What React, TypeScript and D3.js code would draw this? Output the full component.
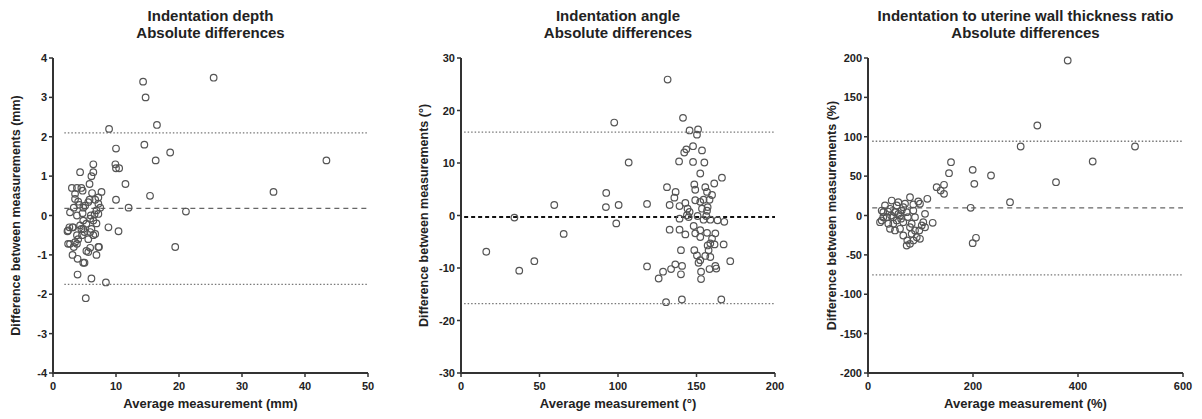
// Bland-Altman plots - three panels side by side
import * as d3 from 'd3';

// [average, difference] pairs
const depthPoints: [number, number][] = [
  [14.3, 3.4], [14.7, 3.0], [16.5, 2.3], [25.5, 3.5], [8.9, 2.2], [10.0, 1.7], [14.5, 1.8], [18.6, 1.6],
  [16.3, 1.4], [43.4, 1.4], [9.9, 1.3], [10.0, 1.2], [10.5, 1.2], [11.5, 0.8], [35.0, 0.6], [15.4, 0.5],
  [10.0, 0.4], [12.0, 0.2], [21.1, 0.1], [8.8, -0.3], [10.4, -0.4], [19.4, -0.8],
  [2.3, -0.4], [2.6, -0.3], [3.0, 0.7], [4.3, 1.1], [6.4, 1.3], [6.1, 1.0], [6.4, 1.1], [5.8, 0.8],
  [7.7, 0.6], [4.5, 0.7], [3.8, 0.7], [3.5, 0.55], [4.0, 0.35], [4.2, 0.27], [3.3, 0.2], [4.8, 0.2],
  [5.8, 0.4], [6.7, 0.4], [7.2, 0.3], [6.9, 0.13], [7.5, 0.2], [3.8, 0.0], [4.7, 0.06], [5.9, -0.08],
  [6.6, 0.03], [3.1, -0.3], [4.3, -0.25], [4.8, -0.34], [5.0, -0.42], [4.6, -0.5], [6.9, -0.2], [6.1, -0.34],
  [5.9, -0.42], [6.4, -0.5], [5.6, -0.6], [4.0, -0.6], [2.7, -0.72], [3.8, -0.72], [3.3, -0.8], [5.9, -0.82],
  [7.3, -0.8], [5.3, -0.9], [3.1, -1.0], [6.9, -1.0], [3.9, -1.1], [4.8, -1.2], [3.9, -1.5], [6.1, -1.6],
  [8.4, -1.7], [5.2, -2.1], [4.7, 0.63], [6.2, 0.57], [7.2, 0.46], [3.5, 0.42], [5.1, 0.25], [5.6, 0.34],
  [2.7, 0.08], [6.0, 0.0], [4.8, -0.13], [7.2, 0.04], [6.4, -0.13], [5.3, -0.21], [2.4, -0.38], [3.2, -0.3],
  [4.5, -0.34], [6.7, -0.47], [3.8, -0.5], [2.4, -0.72], [3.5, -0.68], [5.6, -0.93], [7.2, -0.8], [5.0, -1.2],
];

const anglePoints: [number, number][] = [
  [131.6, 25.9], [141.4, 18.6], [97.6, 17.7], [145.6, 16.2], [151, 16.4], [150.3, 15.4], [106.8, 10.1],
  [16.1, -6.9], [34, -0.4], [37.1, -10.5], [46.7, -8.7], [59.4, 2.0], [65.4, -3.5], [92.5, 4.3], [92.3, 1.6],
  [100.4, 2.0], [98.9, -1.5], [118.5, 2.2], [118.5, -9.7], [130.6, -16.5], [140.7, -16.0], [165.8, -16.0],
  [125.9, -12.0], [152.9, -12.1], [143.5, 12.6], [147.8, 13.2], [142.2, 12.0], [153.5, 12.4], [138.9, 10.3],
  [147.8, 10.2], [155, 10.1], [152.4, 8.0], [166.2, 7.2], [161.3, 6.1], [148.6, 5.9], [155.6, 5.4],
  [131.2, 5.4], [149.2, 4.9], [136.7, 4.5], [156.7, 4.5], [159.9, 3.9], [135.9, 3.4], [149.2, 2.9],
  [154.5, 3.0], [158.3, 3.0], [132.9, 2.0], [139.2, 1.8], [142.9, 2.4], [152.4, 2.6], [144.3, 1.3],
  [153.5, 1.3], [157.1, 1.6], [145.6, 0.7], [156.7, 0.9], [143.9, 0.06], [145, -0.3], [150.7, -0.1],
  [156.2, -0.1], [139.2, -0.6], [154.5, -0.8], [158.8, -0.8], [163.4, -0.9], [167.7, -1.2], [148.2, -2.0],
  [132.9, -2.7], [139.2, -2.7], [152.4, -2.8], [142.9, -3.6], [149.2, -3.4], [152.4, -4.1], [156.7, -3.3],
  [162, -3.4], [159.9, -4.4], [158.8, -5.3], [167.3, -5.5], [161.5, -5.5], [157.1, -5.7], [140.1, -6.6],
  [148.6, -6.6], [157.7, -6.6], [150.3, -7.6], [155.6, -7.7], [158.8, -7.9], [152.4, -8.5], [171.5, -8.7],
  [151.3, -9.0], [136.5, -9.3], [140.8, -9.6], [133.8, -10.2], [128.7, -10.7], [158.3, -10.2], [162, -9.6],
  [162.6, -10.1], [152.9, -10.7], [140.1, -11.2],
];

const ratioPoints: [number, number][] = [
  [380.4, 196.8], [322.5, 114.3], [290.8, 87.6], [508.6, 87.6], [428, 68.6], [358.1, 42.3], [234.3, 50.8],
  [199.4, 58], [202.5, 40.2], [158.1, 67.7], [154.3, 53.7], [144.8, 39], [130.8, 36], [138.4, 31.7],
  [144.8, 27.5], [270.5, 16.9], [195.6, 9.8], [205.7, -28.3], [199.4, -35.1], [113, 21.2], [123.2, -9.3],
  [108.6, 2.1], [80, 23.2], [95.8, 17.8], [86.3, 14], [102.3, -12.7], [97.7, -19], [92.8, -27.5],
  [99, -29.6], [74.9, -31.7], [73.7, -38.1], [83.2, -23.3], [67.2, -25.4], [51.4, -19], [38.7, -10.5],
  [26.1, -6.3], [29.1, 4.2], [41.9, 8.5], [54.7, 12.7], [67.2, 10.5], [73.7, 4.2], [61, 0], [48.2, -2.1],
  [35.6, -2.1], [54.7, -6.3], [67.2, -8.5], [83.2, -10.5], [89.5, -2.1], [86.3, 6.3], [99, 14.9],
  [32.4, 12.7], [45.1, 19], [57.7, 16.9], [70.5, 14.9], [41.9, -16.9], [61, -16.9], [80, -14.9],
  [89.5, -19], [48.2, -10.5], [86.3, -31.7], [80, -36], [105.3, -8.5], [108.6, -14.9], [29.1, -2.1],
  [64.2, 6.3], [51.4, 4.2], [26.1, 6.3], [22.9, -8.5], [58, 2], [44, 0], [38, 5], [63, -4], [76, -2],
];

// bias and limits of agreement [upper, mean, lower]
const depthLimits = [2.1, 0.18, -1.75];
const angleLimits = [15.9, -0.27, -16.8];
const ratioLimits = [94.3, 9.8, -75.3];

const depthXTicks = [0, 10, 20, 30, 40, 50];
const depthYTicks = [-4, -3, -2, -1, 0, 1, 2, 3, 4];
const angleXTicks = [0, 50, 100, 150, 200];
const angleYTicks = [-30, -20, -10, 0, 10, 20, 30];
const ratioXTicks = [0, 200, 400, 600];
const ratioYTicks = [-200, -150, -100, -50, 0, 50, 100, 150, 200];

const FONT = '"Liberation Sans", Arial, sans-serif';

type PanelProps = {
  left: number;
  width: number;
  title: string;
  xLabel: string;
  yLabel: string;
  yLabelX: number;
  xTicks: number[];
  yTicks: number[];
  points: [number, number][];
  limits: number[];
  lineFrom: number;
  boldMean?: boolean;
};

const TOP = 58;
const BOTTOM = 373;

function Panel(p: PanelProps) {
  const x = d3.scaleLinear().domain(d3.extent(p.xTicks) as [number, number]).range([p.left, p.left + p.width]);
  const y = d3.scaleLinear().domain(d3.extent(p.yTicks) as [number, number]).range([BOTTOM, TOP]);
  const x0 = x.domain()[0];
  const x1 = x.domain()[1];
  const cx = p.left + p.width / 2;

  return (
    <g fontFamily={FONT} fontWeight="bold" fill="#222">
      <text x={cx} y={21} textAnchor="middle" fontSize={15}>{p.title}</text>
      <text x={cx} y={38} textAnchor="middle" fontSize={15}>Absolute differences</text>

      {/* limits of agreement */}
      {[p.limits[0], p.limits[2]].map((v, i) => (
        <line key={i} x1={x(p.lineFrom)} x2={x(x1)} y1={y(v)} y2={y(v)}
          stroke="#777" strokeWidth={1.3} strokeDasharray="1.5,2" />
      ))}
      <line x1={x(p.lineFrom)} x2={x(x1)} y1={y(p.limits[1])} y2={y(p.limits[1])}
        stroke={p.boldMean ? '#111' : '#666'} strokeWidth={p.boldMean ? 2 : 1.3}
        strokeDasharray={p.boldMean ? '4,3' : '5,4'} />

      {p.points.map((d, i) => (
        <circle key={i} cx={x(d[0])} cy={y(d[1])} r={3.3} fill="none" stroke="#555" strokeWidth={1.2} />
      ))}

      {/* axes */}
      <line x1={x(x0)} x2={x(x0)} y1={y.range()[1]} y2={y.range()[0]} stroke="#333" strokeWidth={2} />
      <line x1={x(x0) - 1} x2={x(x1)} y1={BOTTOM} y2={BOTTOM} stroke="#333" strokeWidth={2} />
      {p.yTicks.map((t) => (
        <g key={'y' + t}>
          <line x1={x(x0) - 4} x2={x(x0)} y1={y(t)} y2={y(t)} stroke="#333" strokeWidth={1.5} />
          <text x={x(x0) - 6} y={y(t) + 4} textAnchor="end" fontSize={11}>{t}</text>
        </g>
      ))}
      {p.xTicks.map((t) => (
        <g key={'x' + t}>
          <line x1={x(t)} x2={x(t)} y1={BOTTOM} y2={BOTTOM + 4} stroke="#333" strokeWidth={1.5} />
          <text x={x(t)} y={390} textAnchor="middle" fontSize={11}>{t}</text>
        </g>
      ))}
      <text x={cx} y={408} textAnchor="middle" fontSize={13}>{p.xLabel}</text>
      <text transform={`translate(${p.yLabelX},${(TOP + BOTTOM) / 2}) rotate(-90)`} textAnchor="middle" fontSize={12.5}>
        {p.yLabel}
      </text>
    </g>
  );
}

export default function App() {
  return (
    <svg width={1202} height={419} style={{ position: 'absolute', left: 0, top: 0, background: '#fff' }}>
      <Panel left={53} width={315} title="Indentation depth" xLabel="Average measurement (mm)"
        yLabel="Difference between measurements (mm)" yLabelX={20} xTicks={depthXTicks} yTicks={depthYTicks}
        points={depthPoints} limits={depthLimits} lineFrom={1.8} />
      <Panel left={461} width={314} title="Indentation angle" xLabel="Average measurement (°)"
        yLabel="Difference between measurements (°)" yLabelX={428} xTicks={angleXTicks} yTicks={angleYTicks}
        points={anglePoints} limits={angleLimits} lineFrom={2} boldMean />
      <Panel left={868} width={315} title="Indentation to uterine wall thickness ratio" xLabel="Average measurement (%)"
        yLabel="Difference between measurements (%)" yLabelX={836} xTicks={ratioXTicks} yTicks={ratioYTicks}
        points={ratioPoints} limits={ratioLimits} lineFrom={8} />
    </svg>
  );
}
